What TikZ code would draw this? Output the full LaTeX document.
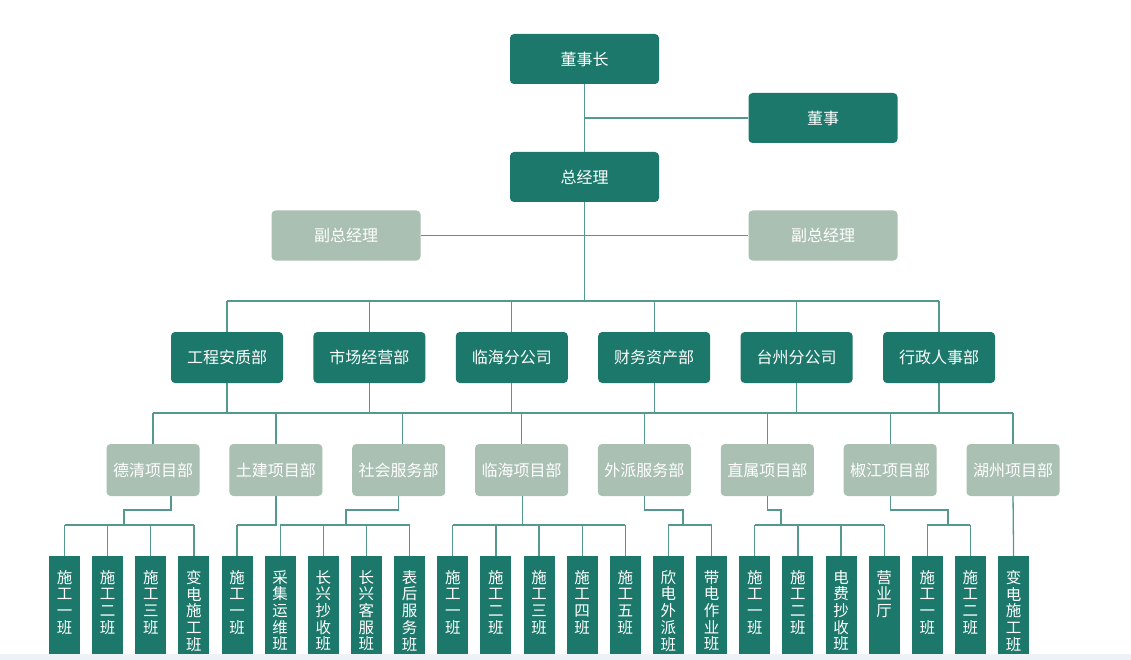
\documentclass[tikz,border=0pt]{standalone}
\usepackage{fontspec}
\setmainfont{Noto Sans CJK SC}
\definecolor{dk}{RGB}{28,120,106}
\definecolor{lt}{RGB}{169,192,179}
\definecolor{ln}{RGB}{84,152,142}
\definecolor{strip}{RGB}{238,242,247}
\begin{document}
\begin{tikzpicture}[x=1pt,y=-1pt,
  topbox/.style={fill=dk, rounded corners=4pt, minimum width=149pt, minimum height=50pt,
    text=white, font=\fontsize{16}{19}\selectfont, inner sep=0pt},
  vpbox/.style={topbox, fill=lt},
  deptbox/.style={topbox, minimum width=112pt, minimum height=51pt},
  subbox/.style={topbox, fill=lt, minimum width=93pt, minimum height=52pt},
  teambox/.style={fill=dk, minimum width=31pt, minimum height=104pt, anchor=north, inner sep=0pt},
  teamtext/.style={text=white, font=\fontsize{15.5}{16.7}\selectfont, align=center, anchor=north, inner sep=0pt},
  wire/.style={draw=ln, line width=1.3pt}]
\useasboundingbox (0,0) rectangle (1131,660);
\fill[white] (0,0) rectangle (1131,660);

% top levels
\node[topbox] (ceo) at (584.5,59) {董事长};
\node[topbox] (dir) at (823,118) {董事};
\node[topbox] (gm) at (584.5,177) {总经理};
\node[vpbox] (vp1) at (346,235.5) {副总经理};
\node[vpbox] (vp2) at (823,235.5) {副总经理};
\coordinate (bus2) at (584.5,301);
\coordinate (bus3) at (0,413);
\coordinate (y1) at (0,510);
\coordinate (y2) at (0,525);

% departments
\foreach \i/\t in {1/工程安质部,2/市场经营部,3/临海分公司,4/财务资产部,5/台州分公司,6/行政人事部}
  \node[deptbox] (d\i) at ({227+(\i-1)*142.4},357.5) {\t};

% level 3
\foreach \i/\t in {1/德清项目部,2/土建项目部,3/社会服务部,4/临海项目部,5/外派服务部,6/直属项目部,7/椒江项目部,8/湖州项目部}
  \node[subbox] (l\i) at ({153+(\i-1)*122.86},470) {\t};

% teams
\foreach \i/\t in {1/{施\\工\\一\\班},2/{施\\工\\二\\班},3/{施\\工\\三\\班},4/{变\\电\\施\\工\\班},
  5/{施\\工\\一\\班},6/{采\\集\\运\\维\\班},7/{长\\兴\\抄\\收\\班},8/{长\\兴\\客\\服\\班},9/{表\\后\\服\\务\\班},
  10/{施\\工\\一\\班},11/{施\\工\\二\\班},12/{施\\工\\三\\班},13/{施\\工\\四\\班},14/{施\\工\\五\\班},
  15/{欣\\电\\外\\派\\班},16/{带\\电\\作\\业\\班},17/{施\\工\\一\\班},18/{施\\工\\二\\班},19/{电\\费\\抄\\收\\班},
  20/{营\\业\\厅},21/{施\\工\\一\\班},22/{施\\工\\二\\班},23/{变\\电\\施\\工\\班}}{
  \node[teambox] (t\i) at ({64.5+(\i-1)*43.14},556) {};
  \node[teamtext] (tt\i) at ([yshift=-14pt]t\i.north) {\t};
}

% connectors top
\draw[wire] (ceo.south) -- (gm.north);
\draw[wire] (ceo.south |- dir.west) -- (dir.west);
\draw[wire] (vp1.east) -- (vp2.west);
\draw[wire] (gm.south) -- (bus2);
\draw[wire] (d1.north |- bus2) -- (d6.north |- bus2);
\foreach \i in {1,...,6} \draw[wire] (d\i.north) -- (d\i.north |- bus2);

% connectors level 3
\draw[wire] (l1.north |- bus3) -- (l8.north |- bus3);
\foreach \i in {1,...,6} \draw[wire] (d\i.south) -- (d\i.south |- bus3);
\foreach \i in {1,2,4,5,6,7,8} \draw[wire] (l\i.north) -- (l\i.north |- bus3);
\draw[wire] ([xshift=4pt]l3.north) -- ([xshift=4pt]l3.north |- bus3);

% connectors level 4
\coordinate (j1) at (124,510);
\coordinate (j3) at (346,510);
\coordinate (j5) at (683,510);
\coordinate (j6) at (781,510);
\coordinate (j7) at (948,510);
\foreach \i in {1,...,22} \draw[wire] (t\i.north) -- (t\i.north |- y2);
\draw[wire] ([xshift=18pt]l1.south) |- (j1) -- (j1 |- y2);
\draw[wire] (t1.north |- y2) -- (t4.north |- y2);
\draw[wire] (l2.south) -- (l2.south |- y2) -- (t5.north |- y2);
\draw[wire] (l3.south) |- (j3) -- (j3 |- y2);
\draw[wire] (t6.north |- y2) -- (t9.north |- y2);
\draw[wire] ([xshift=1pt]l4.south) -- ([xshift=1pt]l4.south |- y2);
\draw[wire] (t10.north |- y2) -- (t14.north |- y2);
\draw[wire] (l5.south) |- (j5) -- (j5 |- y2);
\draw[wire] (t15.north |- y2) -- (t16.north |- y2);
\draw[wire] (l6.south) |- (j6) -- (j6 |- y2);
\draw[wire] (t17.north |- y2) -- (t20.north |- y2);
\draw[wire] (l7.south) |- (j7) -- (j7 |- y2);
\draw[wire] (t21.north |- y2) -- (t22.north |- y2);
\draw[wire] (l8.south) -- (t23.north);

% bottom strip
\fill[strip] (0,654) rectangle (1131,660);
\end{tikzpicture}
\end{document}
